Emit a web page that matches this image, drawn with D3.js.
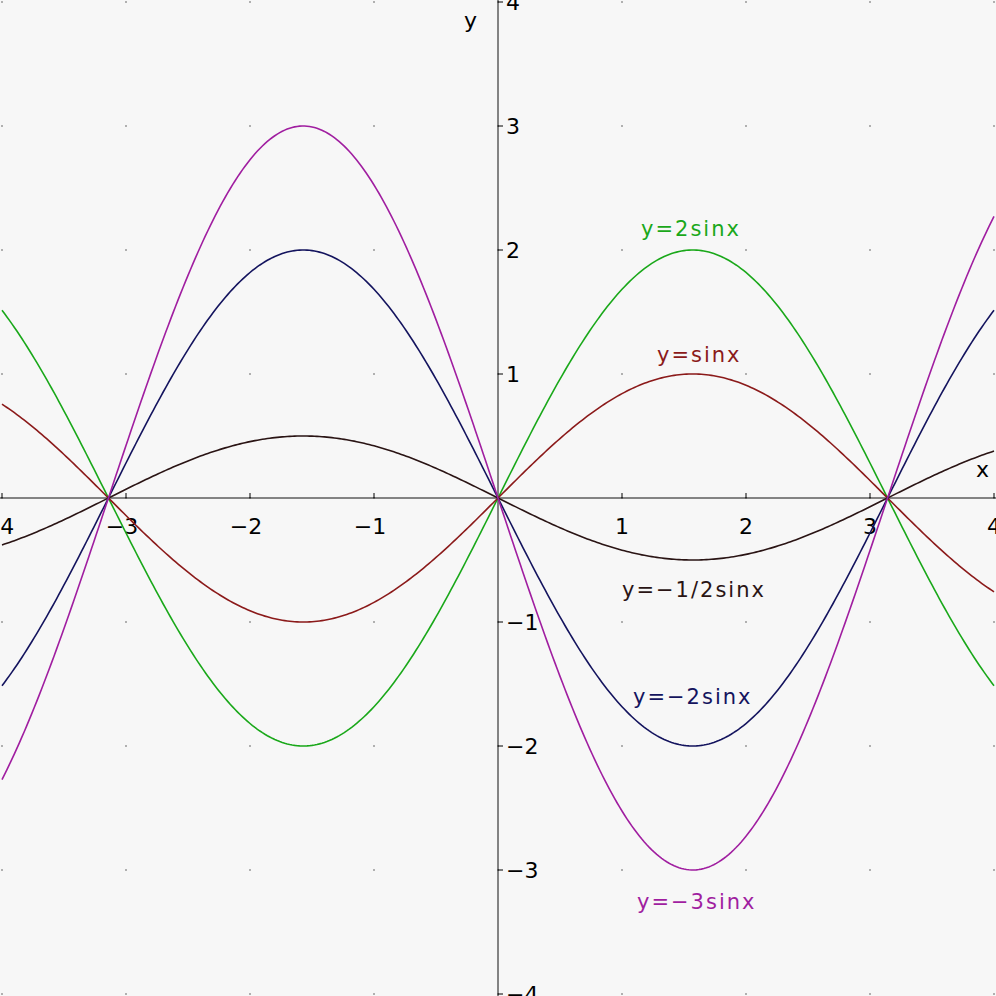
<!DOCTYPE html>
<html><head><meta charset="utf-8">
<script src="https://cdn.jsdelivr.net/npm/d3@7"></script>
<style>body{margin:0;background:#f7f7f7}svg{display:block}</style>
</head><body>
<svg id="chart" width="996" height="996"></svg>
<script>
// curves are y = k * sin(x)
var coefs = [2, 1, -0.5, -2, -3];
var colors = ["#1aa81a", "#8b1a1a", "#2a1414", "#14145e", "#a01ea0"];
var labels = ["y=2sinx", "y=sinx", "y=\u22121/2sinx", "y=\u22122sinx", "y=\u22123sinx"];
var labelPos = [[641, 236], [657, 362], [622, 597], [633, 704], [637, 909]];
var xTicks = [-4, -3, -2, -1, 1, 2, 3, 4];
var yTicks = [-4, -3, -2, -1, 1, 2, 3, 4];

var svg = d3.select("#chart");
var x = d3.scaleLinear().domain([-4, 4]).range([2, 994]);
var y = d3.scaleLinear().domain([-4, 4]).range([994, 2]);

svg.append("rect").attr("width", 996).attr("height", 996).attr("fill", "#f7f7f7");

// grid dots
var grid = [];
d3.range(-4, 5).forEach(function (i) {
    d3.range(-4, 5).forEach(function (j) { grid.push([i, j]); });
});
svg.selectAll("circle.g").data(grid).enter().append("circle")
    .attr("cx", function (d) { return x(d[0]); })
    .attr("cy", function (d) { return y(d[1]); })
    .attr("r", 1).attr("fill", "#999");

// axes
svg.append("line").attr("x1", 0).attr("x2", 996).attr("y1", y(0)).attr("y2", y(0)).attr("stroke", "#111");
svg.append("line").attr("y1", 0).attr("y2", 996).attr("x1", x(0)).attr("x2", x(0)).attr("stroke", "#111");

svg.selectAll("line.xt").data(xTicks).enter().append("line")
    .attr("x1", function (d) { return x(d); }).attr("x2", function (d) { return x(d); })
    .attr("y1", y(0) - 5).attr("y2", y(0)).attr("stroke", "#000");
svg.selectAll("line.yt").data(yTicks).enter().append("line")
    .attr("y1", function (d) { return y(d); }).attr("y2", function (d) { return y(d); })
    .attr("x1", x(0)).attr("x2", x(0) + 5).attr("stroke", "#000");

var font = "DejaVu Sans";
svg.selectAll("text.xt").data(xTicks).enter().append("text")
    .attr("x", function (d) { return x(d) + (d < 0 ? -4 : 0); })
    .attr("y", y(0) + 36)
    .attr("text-anchor", "middle").attr("font-family", font).attr("font-size", 22)
    .text(function (d) { return d < 0 ? "\u2212" + (-d) : d; });
svg.selectAll("text.yt").data(yTicks).enter().append("text")
    .attr("x", x(0) + 8).attr("y", function (d) { return y(d) + 8; })
    .attr("font-family", font).attr("font-size", 22)
    .text(function (d) { return d < 0 ? "\u2212" + (-d) : d; });

svg.append("text").attr("x", 976).attr("y", 477).attr("font-family", font).attr("font-size", 22).text("x");
svg.append("text").attr("x", 464).attr("y", 28).attr("font-family", font).attr("font-size", 22).text("y");

// curves
var xs = d3.range(-4, 4.0001, 0.02);
var line = d3.line().x(function (d) { return x(d[0]); }).y(function (d) { return y(d[1]); });
coefs.forEach(function (k, i) {
    svg.append("path")
        .datum(xs.map(function (v) { return [v, k * Math.sin(v)]; }))
        .attr("d", line).attr("fill", "none")
        .attr("stroke", colors[i]).attr("stroke-width", 1.6);
    svg.append("text").attr("x", labelPos[i][0]).attr("y", labelPos[i][1])
        .attr("font-family", font).attr("font-size", 21).attr("fill", colors[i])
        .attr("letter-spacing", 2)
        .text(labels[i]);
});
</script>
</body></html>
